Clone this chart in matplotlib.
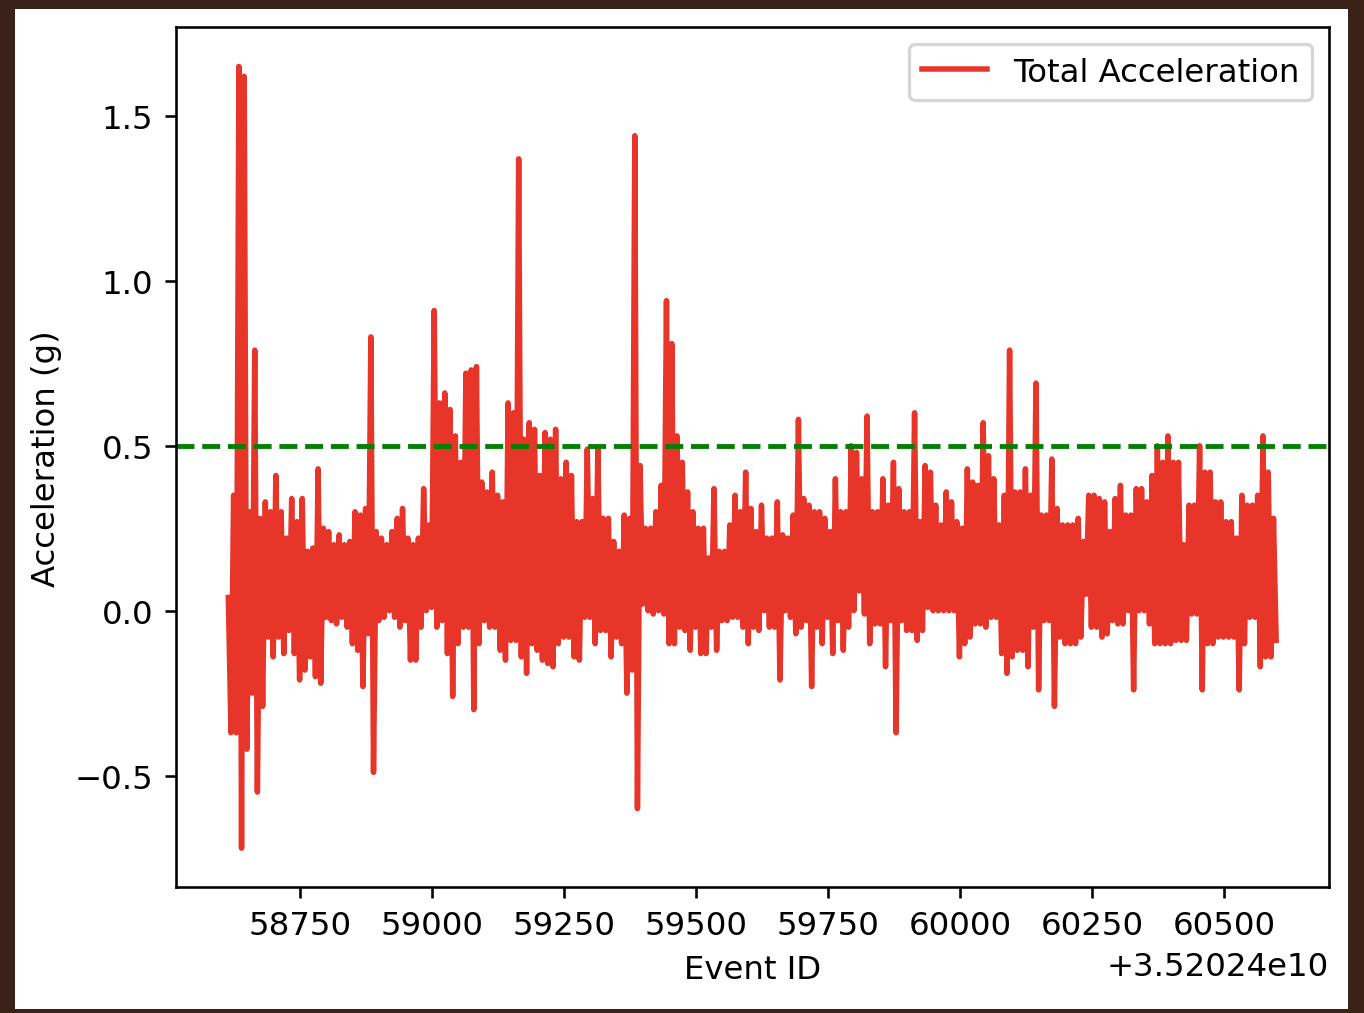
import numpy as np
import matplotlib
matplotlib.use("Agg")
import matplotlib.pyplot as plt
from matplotlib.patches import Rectangle

# event ids: first id, spacing between samples
event_start = 35202458614
event_step = 5

# acceleration, (high, low) pairs every 10 events
accel_pairs = [
    (0.04, -0.37), (0.35, -0.37), (1.65, -0.72), (1.62, -0.42), (0.30, -0.25),
    (0.79, -0.55), (0.28, -0.29), (0.33, -0.08), (0.30, -0.14), (0.41, -0.08),
    (0.30, -0.13), (0.22, -0.06), (0.34, -0.13), (0.27, -0.21), (0.34, -0.18),
    (0.18, -0.14), (0.19, -0.20), (0.43, -0.22), (0.25, -0.02), (0.24, -0.03),
    (0.20, -0.04), (0.23, -0.02), (0.20, -0.05), (0.21, -0.10), (0.30, -0.12),
    (0.29, -0.23), (0.31, -0.07), (0.83, -0.49), (0.24, -0.03), (0.22, -0.02),
    (0.20, 0.00), (0.24, -0.02), (0.28, -0.05), (0.31, -0.03), (0.22, -0.15),
    (0.20, -0.15), (0.22, -0.05), (0.37, 0.00), (0.26, 0.01), (0.91, -0.05),
    (0.63, -0.03), (0.66, -0.13), (0.61, -0.26), (0.53, -0.10), (0.45, -0.05),
    (0.72, -0.05), (0.73, -0.30), (0.74, -0.10), (0.39, -0.03), (0.36, -0.05),
    (0.42, -0.05), (0.35, -0.12), (0.33, -0.15), (0.63, -0.09), (0.60, -0.09),
    (1.37, -0.14), (0.52, -0.19), (0.57, -0.10), (0.55, -0.12), (0.41, -0.15),
    (0.54, -0.16), (0.52, -0.17), (0.55, -0.10), (0.40, -0.08), (0.45, -0.08),
    (0.41, -0.14), (0.27, -0.15), (0.27, -0.02), (0.49, -0.02), (0.34, -0.10),
    (0.49, -0.06), (0.28, -0.06), (0.28, -0.14), (0.21, -0.08), (0.18, -0.10),
    (0.29, -0.25), (0.28, -0.18), (1.44, -0.60), (0.44, 0.02), (0.25, 0.00),
    (0.25, -0.01), (0.30, 0.00), (0.38, -0.01), (0.94, -0.10), (0.81, -0.10),
    (0.53, -0.05), (0.45, -0.06), (0.36, -0.12), (0.30, -0.05), (0.25, -0.13),
    (0.25, -0.13), (0.16, -0.05), (0.37, -0.12), (0.18, -0.03), (0.18, -0.03),
    (0.26, -0.02), (0.35, -0.02), (0.30, -0.05), (0.42, -0.10), (0.31, -0.05),
    (0.24, -0.06), (0.32, 0.00), (0.22, -0.05), (0.22, -0.05), (0.33, -0.21),
    (0.23, 0.00), (0.22, -0.02), (0.29, -0.07), (0.58, -0.05), (0.34, -0.03),
    (0.32, -0.23), (0.30, -0.05), (0.30, -0.10), (0.28, -0.02), (0.24, -0.13),
    (0.40, -0.03), (0.30, -0.12), (0.30, -0.05), (0.50, 0.00), (0.48, 0.06),
    (0.40, -0.01), (0.59, -0.10), (0.30, -0.04), (0.30, -0.04), (0.40, -0.17),
    (0.32, -0.03), (0.45, -0.37), (0.37, -0.03), (0.30, -0.06), (0.30, -0.06),
    (0.60, -0.09), (0.27, -0.06), (0.44, 0.01), (0.42, 0.00), (0.32, 0.00),
    (0.26, 0.00), (0.36, 0.00), (0.33, 0.00), (0.27, -0.14), (0.25, -0.10),
    (0.43, -0.08), (0.39, -0.04), (0.38, -0.04), (0.57, -0.05), (0.47, -0.02),
    (0.40, -0.02), (0.26, -0.13), (0.35, -0.19), (0.79, -0.14), (0.36, -0.12),
    (0.36, -0.12), (0.43, -0.17), (0.35, -0.05), (0.69, -0.24), (0.29, -0.03),
    (0.29, -0.03), (0.46, -0.29), (0.31, -0.08), (0.26, -0.10), (0.26, -0.10),
    (0.26, -0.10), (0.28, -0.08), (0.21, 0.05), (0.35, -0.05), (0.35, -0.05),
    (0.34, -0.08), (0.33, -0.07), (0.24, -0.03), (0.34, -0.04), (0.38, -0.04),
    (0.29, 0.00), (0.29, -0.24), (0.37, 0.00), (0.37, 0.00), (0.33, -0.04),
    (0.41, -0.10), (0.50, -0.10), (0.45, -0.10), (0.53, -0.10), (0.45, -0.09),
    (0.45, -0.09), (0.20, -0.09), (0.32, -0.01), (0.32, -0.01), (0.50, -0.24),
    (0.42, -0.10), (0.42, -0.10), (0.33, -0.08), (0.33, -0.08), (0.27, -0.08),
    (0.27, -0.08), (0.22, -0.24), (0.35, -0.10), (0.32, -0.02), (0.32, -0.02),
    (0.35, -0.17), (0.53, -0.14), (0.42, -0.14), (0.28, -0.09),
]
threshold = 0.5

accel = np.array(accel_pairs).ravel()
event_id = event_start + event_step * np.arange(len(accel))

DPI = 233
fig = plt.figure(figsize=(1364 / DPI, 1014 / DPI), dpi=DPI)
fig.patch.set_facecolor("#3b2219")
fig.patches.append(Rectangle((0.011, 0.004), 0.977, 0.986, transform=fig.transFigure,
                             facecolor="white", edgecolor="none", zorder=-10))

ax = fig.add_axes([0.129, 0.124, 0.845, 0.848])
ax.plot(event_id, accel, color="#e8352a", linewidth=1.7, label="Total Acceleration")
ax.axhline(threshold, color="green", linestyle="--", linewidth=1.5)

ax.set_xlabel("Event ID")
ax.set_ylabel("Acceleration (g)")
ax.legend(loc="upper right")

fig.savefig("out.png", dpi=DPI, facecolor=fig.get_facecolor())
